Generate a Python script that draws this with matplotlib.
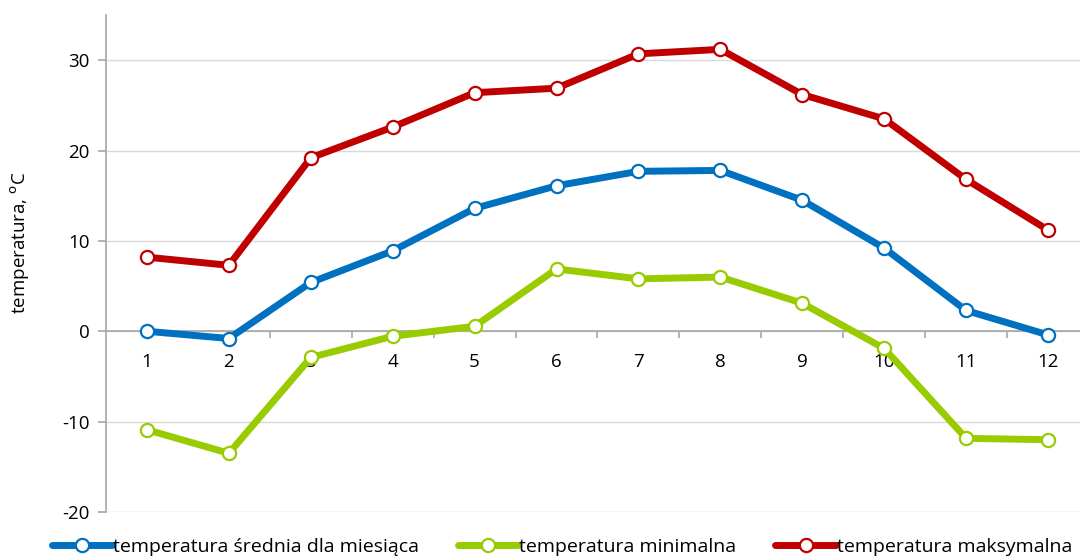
import matplotlib
matplotlib.use("Agg")
import matplotlib.pyplot as plt
from matplotlib.ticker import FixedLocator

plt.rcParams['font.family'] = ['Open Sans', 'DejaVu Sans']

months = [1, 2, 3, 4, 5, 6, 7, 8, 9, 10, 11, 12]
month_labels = [str(m) for m in months]
t_mean = [0.0, -0.8, 5.4, 8.9, 13.6, 16.1, 17.7, 17.8, 14.5, 9.2, 2.3, -0.4]
t_min = [-10.9, -13.5, -2.9, -0.55, 0.55, 6.9, 5.8, 6.0, 3.1, -1.9, -11.85, -12.0]
t_max = [8.2, 7.3, 19.2, 22.6, 26.4, 26.9, 30.7, 31.2, 26.2, 23.5, 16.8, 11.2]
series_names = ['temperatura średnia dla miesiąca', 'temperatura minimalna', 'temperatura maksymalna']
colors = ['#0070C0', '#99CC00', '#C00000']
yticks = [-20, -10, 0, 10, 20, 30]

fig = plt.figure(figsize=(10.8, 5.58), dpi=100)
ax = fig.add_axes([106/1080, 46/558, 983/1080, 497/558])

for vals, name, c in zip([t_mean, t_min, t_max], series_names, colors):
    ax.plot(months, vals, color=c, lw=5, marker='o', markersize=9.5,
            markerfacecolor='white', markeredgecolor=c, markeredgewidth=1.6,
            label=name, solid_capstyle='round', solid_joinstyle='round', zorder=3)

ax.set_xlim(0.5, 12.5)
ax.set_ylim(-20, 35)
ax.set_yticks(yticks)
ax.set_yticklabels([str(v) for v in yticks])
ax.yaxis.grid(True, color='#D9D9D9', lw=1)
ax.set_axisbelow(True)

ax.spines['top'].set_visible(False)
ax.spines['right'].set_visible(False)
ax.spines['left'].set_color('#A6A6A6')
ax.spines['left'].set_linewidth(1.2)
ax.spines['bottom'].set_position(('data', 0))
ax.spines['bottom'].set_color('#A6A6A6')
ax.spines['bottom'].set_linewidth(1.2)

ax.set_xticks(months)
ax.set_xticklabels(month_labels)
ax.xaxis.set_minor_locator(FixedLocator([m + 0.5 for m in months]))
ax.tick_params(axis='x', which='major', length=0, pad=16, labelsize=13.5, labelcolor='#000000')
ax.tick_params(axis='x', which='minor', length=5, width=1.2, color='#A6A6A6', direction='out')
ax.tick_params(axis='y', length=6, width=1.2, color='#A6A6A6', pad=6, labelsize=13.5)

fig.text(20/1080, 1 - 243/558, 'temperatura, $^{\\mathrm{o}}$C', rotation=90,
         ha='center', va='center', fontsize=13.5)

fig.legend(loc='center', bbox_to_anchor=(562/1080, 1 - 547/558), ncol=3, frameon=False,
           fontsize=14, handlelength=3.1, handletextpad=0.05, columnspacing=2.0)

fig.savefig('out.png', dpi=100)
